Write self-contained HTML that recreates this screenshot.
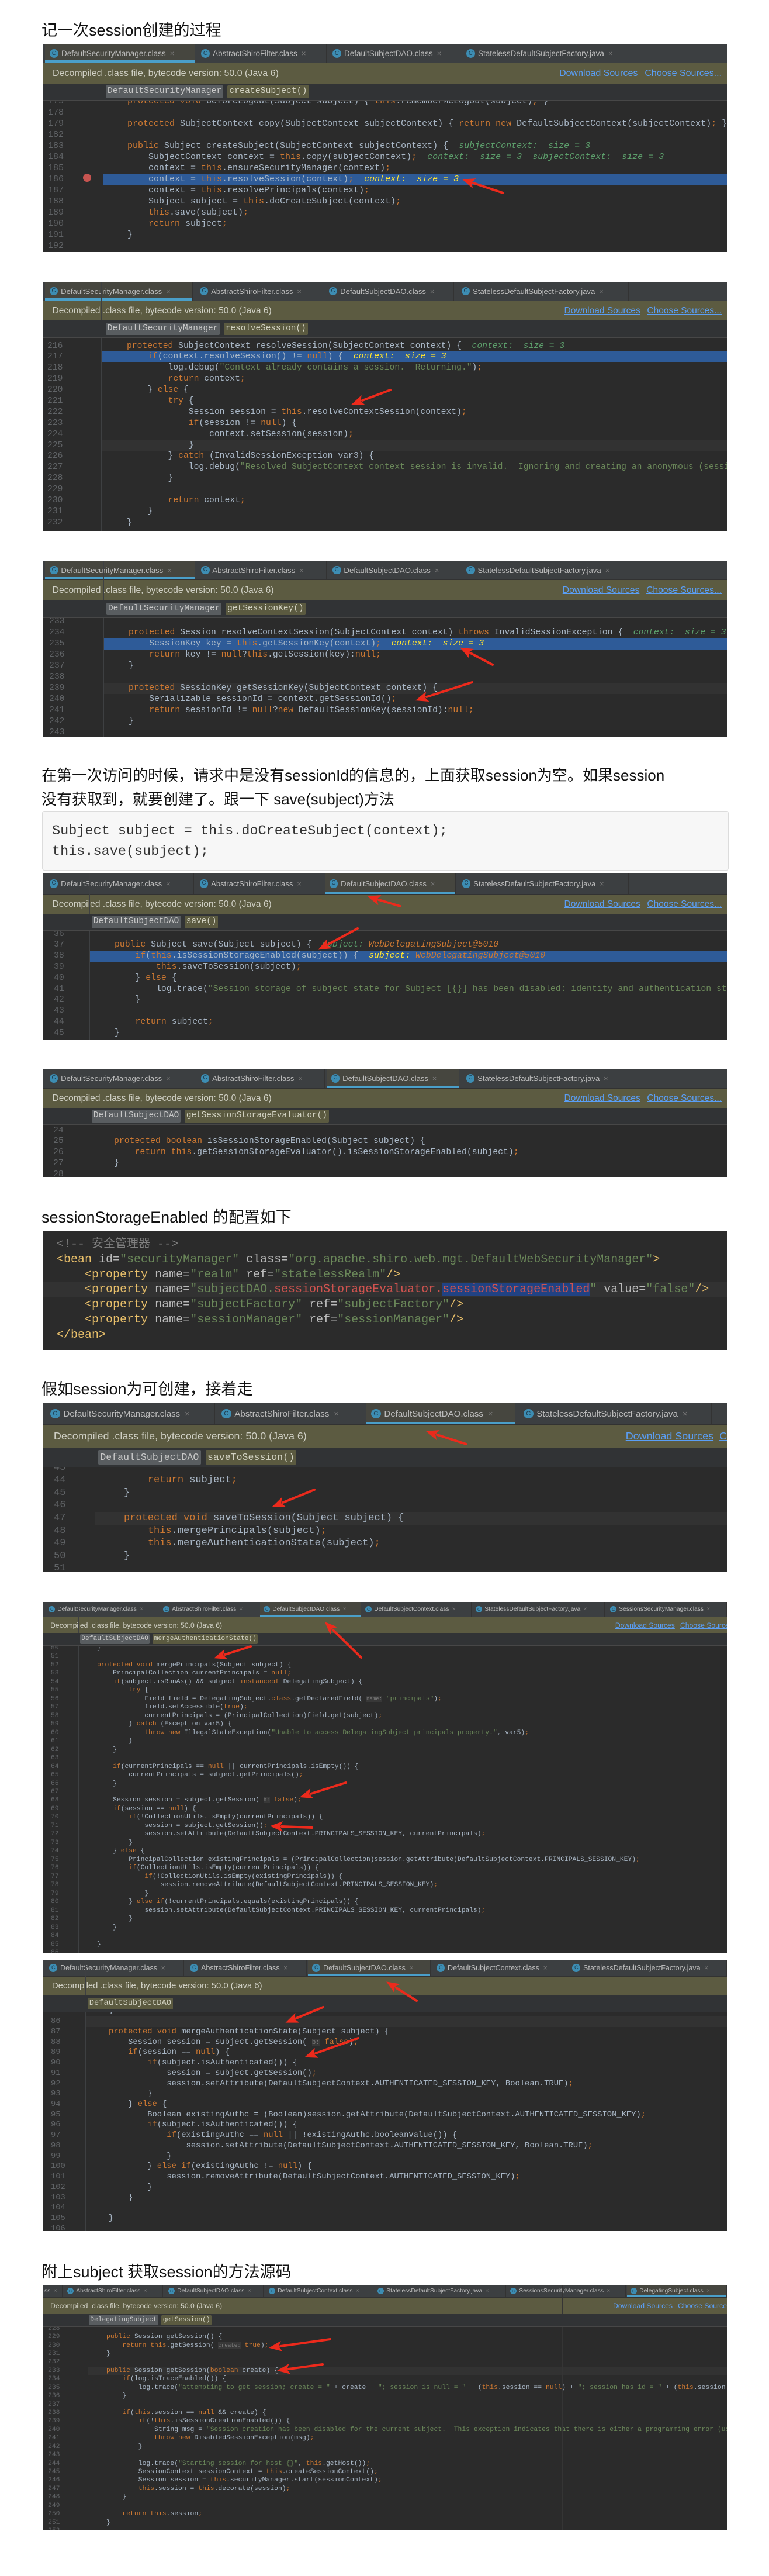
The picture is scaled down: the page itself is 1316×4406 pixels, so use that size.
<!DOCTYPE html>
<html><head><meta charset="utf-8">
<style>
*{margin:0;padding:0;box-sizing:border-box}
body{width:1316px;height:4406px;background:#fff;position:relative;overflow:hidden;font-family:"Liberation Sans","Noto Sans CJK SC",sans-serif}
.t{position:absolute;left:71px;font-size:27px;line-height:34px;color:#111;white-space:nowrap;font-family:"Liberation Sans","Noto Sans CJK SC",sans-serif}
.p{position:absolute;left:74px;width:1170px;background:#2b2b2b;overflow:hidden;--s:1}
.tb{position:relative;height:var(--th);background:#3c3f41;border-bottom:1px solid #323232}
.tab{position:absolute;top:0;bottom:0;display:flex;align-items:center;padding-left:calc(8px*var(--s));color:#bbbbbb;font-size:calc(13.5px*var(--s));white-space:nowrap;overflow:hidden;border-right:1px solid #333}
.tab.a{background:#46463f}
.tab.a::after{content:'';position:absolute;left:0;right:0;bottom:0;height:calc(4px*var(--s));background:#4a9fc9}
.tab b{display:inline-block;width:calc(15px*var(--s));height:calc(15px*var(--s));border-radius:50%;background:#3d8db3;color:#1e3b4d;font-size:calc(10px*var(--s));line-height:calc(15px*var(--s));text-align:center;margin-right:calc(5px*var(--s));font-weight:normal}
.tab u{text-decoration:none;color:#777;margin-left:calc(7px*var(--s))}
.dec{height:var(--dh);background:#5c5b41;display:flex;align-items:center;padding-left:calc(16px*var(--s));color:#cfcfc4;font-size:calc(16px*var(--s));white-space:nowrap}
.lk{color:#5a9ef5;text-decoration:underline}
.lk1{margin-left:auto;margin-right:calc(12px*var(--s))}
.lk2{margin-right:9px}
.bc{position:relative;z-index:3;height:var(--bh);background:#313335;border-bottom:1px solid #474747;display:flex;align-items:center}
.ch{font-family:"Liberation Mono",monospace;font-size:calc(14.8px*var(--s));color:#c8c8c8;background:#595d60;padding:calc(2px*var(--s)) calc(3px*var(--s));margin-right:calc(7px*var(--s));border-radius:2px;line-height:1.2}
.ch.o{background:#5b5a40;color:#d2d2c2}
.code{position:absolute;left:0;right:0;z-index:0;font-family:"Liberation Mono",monospace;font-size:var(--fs);color:#a9b7c6}
.l{position:relative;height:var(--L);line-height:var(--L);padding-left:var(--cx);white-space:pre}
.l i{position:absolute;left:var(--nx);font-style:normal;color:#606366}
.hl::before,.cl::before{content:'';position:absolute;left:var(--gx);right:0;top:0;bottom:0;z-index:-1;background:#2e5b98}
.cl::before{background:#323232}
.gl{position:absolute;top:0;bottom:0;width:1px;background:#3e4042;z-index:1}
.k{color:#cc7832}.s{color:#6a8759}.d{color:#5c9e6b;font-style:italic}.y{color:#ffe330;font-style:italic}.y2{color:#ffc66d;font-style:italic}
.hint{color:#7a7a7a;background:#383838;font-size:.8em}
.xc{color:#808080}.xt{color:#e8bf6a}.xa{color:#bababa}.xv{color:#6a8759}.xr{color:#d0534f}.sel{background:#214283}
.box{position:absolute;left:72px;top:1387px;width:1175px;height:102px;background:#f7f7f7;border:1px solid #dcdcdc;border-radius:4px;font-family:"Liberation Mono",monospace;font-size:23.5px;line-height:35px;color:#333;padding:16px 0 0 16px;white-space:pre}
svg.ar{position:absolute;left:0;top:0;z-index:10}
</style></head><body>

<div class="t" style="top:35px">记一次session创建的过程</div>

<!-- PANEL 1 -->
<div class="p" style="top:76px;height:355px;--th:32px;--dh:35px;--bh:29px">
<div class="tb">
<div class="tab a" style="left:3px;width:257px"><b>C</b>DefaultSecurityManager.class<u>×</u></div>
<div class="tab" style="left:262px;width:223px"><b>C</b>AbstractShiroFilter.class<u>×</u></div>
<div class="tab" style="left:487px;width:225px"><b>C</b>DefaultSubjectDAO.class<u>×</u></div>
<div class="tab" style="left:716px;width:294px"><b>C</b>StatelessDefaultSubjectFactory.java<u>×</u></div>
</div>
<div class="dec">Decompiled .class file, bytecode version: 50.0 (Java 6)<span class="lk lk1">Download Sources</span><span class="lk lk2">Choose Sources...</span></div>
<div class="bc"><span class="ch" style="margin-left:107px">DefaultSecurityManager</span><span class="ch o">createSubject()</span></div>
<div class="gl" style="left:102px"></div>
<div class="code" style="top:87.5px;--L:19px;--fs:15px;--cx:144px;--nx:8px;--gx:102px">
<div class="l"><i>175</i><span class="k">protected void</span> beforeLogout(Subject subject) { <span class="k">this</span>.rememberMeLogout(subject)<span class="k">;</span> }</div>
<div class="l"><i>178</i></div>
<div class="l"><i>179</i><span class="k">protected</span> SubjectContext copy(SubjectContext subjectContext) { <span class="k">return new</span> DefaultSubjectContext(subjectContext)<span class="k">;</span> }</div>
<div class="l"><i>182</i></div>
<div class="l"><i>183</i><span class="k">public</span> Subject createSubject(SubjectContext subjectContext) {  <span class="d">subjectContext:  size = 3</span></div>
<div class="l"><i>184</i>    SubjectContext context = <span class="k">this</span>.copy(subjectContext)<span class="k">;</span>  <span class="d">context:  size = 3  subjectContext:  size = 3</span></div>
<div class="l"><i>185</i>    context = <span class="k">this</span>.ensureSecurityManager(context)<span class="k">;</span></div>
<div class="l hl"><i>186</i>    context = <span class="k">this</span>.resolveSession(context)<span class="k">;</span>  <span class="y">context:  size = 3</span></div>
<div class="l"><i>187</i>    context = <span class="k">this</span>.resolvePrincipals(context)<span class="k">;</span></div>
<div class="l"><i>188</i>    Subject subject = <span class="k">this</span>.doCreateSubject(context)<span class="k">;</span></div>
<div class="l"><i>189</i>    <span class="k">this</span>.save(subject)<span class="k">;</span></div>
<div class="l"><i>190</i>    <span class="k">return</span> subject<span class="k">;</span></div>
<div class="l"><i>191</i>}</div>
<div class="l"><i>192</i></div>
</div>
<div style="position:absolute;left:68px;top:221px;width:14px;height:14px;border-radius:50%;background:#c75450;z-index:2"></div>
</div>

<!-- PANEL 2 -->
<div class="p" style="top:482px;height:426px;--s:.97;--th:33px;--dh:33px;--bh:30px">
<div class="tb">
<div class="tab a" style="left:3px;width:253px"><b>C</b>DefaultSecurityManager.class<u>×</u></div>
<div class="tab" style="left:260px;width:216px"><b>C</b>AbstractShiroFilter.class<u>×</u></div>
<div class="tab" style="left:481px;width:222px"><b>C</b>DefaultSubjectDAO.class<u>×</u></div>
<div class="tab" style="left:708px;width:294px"><b>C</b>StatelessDefaultSubjectFactory.java<u>×</u></div>
</div>
<div class="dec">Decompiled .class file, bytecode version: 50.0 (Java 6)<span class="lk lk1">Download Sources</span><span class="lk lk2">Choose Sources...</span></div>
<div class="bc"><span class="ch" style="margin-left:107px">DefaultSecurityManager</span><span class="ch o">resolveSession()</span></div>
<div class="gl" style="left:99px"></div>
<div class="code" style="top:100.5px;--L:18.9px;--fs:14.7px;--cx:143px;--nx:7px;--gx:99px">
<div class="l"><i>216</i><span class="k">protected</span> SubjectContext resolveSession(SubjectContext context) {  <span class="d">context:  size = 3</span></div>
<div class="l hl"><i>217</i>    <span class="k">if</span>(context.resolveSession() != <span class="k">null</span>) {  <span class="y">context:  size = 3</span></div>
<div class="l"><i>218</i>        log.debug(<span class="s">"Context already contains a session.  Returning."</span>)<span class="k">;</span></div>
<div class="l"><i>219</i>        <span class="k">return</span> context<span class="k">;</span></div>
<div class="l"><i>220</i>    } <span class="k">else</span> {</div>
<div class="l"><i>221</i>        <span class="k">try</span> {</div>
<div class="l"><i>222</i>            Session session = <span class="k">this</span>.resolveContextSession(context)<span class="k">;</span></div>
<div class="l"><i>223</i>            <span class="k">if</span>(session != <span class="k">null</span>) {</div>
<div class="l"><i>224</i>                context.setSession(session)<span class="k">;</span></div>
<div class="l cl"><i>225</i>            }</div>
<div class="l"><i>226</i>        } <span class="k">catch</span> (InvalidSessionException var3) {</div>
<div class="l"><i>227</i>            log.debug(<span class="s">"Resolved SubjectContext context session is invalid.  Ignoring and creating an anonymous (sessionless) Subject instance."</span>, var3)<span class="k">;</span></div>
<div class="l"><i>228</i>        }</div>
<div class="l"><i>229</i></div>
<div class="l"><i>230</i>        <span class="k">return</span> context<span class="k">;</span></div>
<div class="l"><i>231</i>    }</div>
<div class="l"><i>232</i>}</div>
</div>
</div>

<!-- PANEL 3 -->
<div class="p" style="top:959px;height:301px;--s:.98;--th:33px;--dh:35px;--bh:30px">
<div class="tb">
<div class="tab a" style="left:3px;width:257px"><b>C</b>DefaultSecurityManager.class<u>×</u></div>
<div class="tab" style="left:262px;width:223px"><b>C</b>AbstractShiroFilter.class<u>×</u></div>
<div class="tab" style="left:487px;width:225px"><b>C</b>DefaultSubjectDAO.class<u>×</u></div>
<div class="tab" style="left:716px;width:294px"><b>C</b>StatelessDefaultSubjectFactory.java<u>×</u></div>
</div>
<div class="dec">Decompiled .class file, bytecode version: 50.0 (Java 6)<span class="lk lk1">Download Sources</span><span class="lk lk2">Choose Sources...</span></div>
<div class="bc"><span class="ch" style="margin-left:108px">DefaultSecurityManager</span><span class="ch o">getSessionKey()</span></div>
<div class="gl" style="left:103px"></div>
<div class="code" style="top:94.5px;--L:19px;--fs:14.7px;--cx:146px;--nx:10px;--gx:103px">
<div class="l"><i>233</i></div>
<div class="l"><i>234</i><span class="k">protected</span> Session resolveContextSession(SubjectContext context) <span class="k">throws</span> InvalidSessionException {  <span class="d">context:  size = 3</span></div>
<div class="l hl"><i>235</i>    SessionKey key = <span class="k">this</span>.getSessionKey(context)<span class="k">;</span>  <span class="y">context:  size = 3</span></div>
<div class="l"><i>236</i>    <span class="k">return</span> key != <span class="k">null</span>?<span class="k">this</span>.getSession(key):<span class="k">null;</span></div>
<div class="l"><i>237</i>}</div>
<div class="l"><i>238</i></div>
<div class="l cl"><i>239</i><span class="k">protected</span> SessionKey getSessionKey(SubjectContext context) {</div>
<div class="l"><i>240</i>    Serializable sessionId = context.getSessionId()<span class="k">;</span></div>
<div class="l"><i>241</i>    <span class="k">return</span> sessionId != <span class="k">null</span>?<span class="k">new</span> DefaultSessionKey(sessionId):<span class="k">null;</span></div>
<div class="l"><i>242</i>}</div>
<div class="l"><i>243</i></div>
</div>
</div>

<div class="t" style="top:1306px;font-size:26px;line-height:41px">在第一次访问的时候，请求中是没有sessionId的信息的，上面获取session为空。如果session<br>没有获取到，就要创建了。跟一下 save(subject)方法</div>

<div class="box">Subject subject = this.doCreateSubject(context);
this.save(subject);</div>

<!-- PANEL 4 -->
<div class="p" style="top:1494px;height:284px;--s:.97;--th:36px;--dh:33px;--bh:29px">
<div class="tb">
<div class="tab" style="left:3px;width:255px"><b>C</b>DefaultSecurityManager.class<u>×</u></div>
<div class="tab" style="left:260px;width:216px"><b>C</b>AbstractShiroFilter.class<u>×</u></div>
<div class="tab a" style="left:482px;width:224px"><b>C</b>DefaultSubjectDAO.class<u>×</u></div>
<div class="tab" style="left:709px;width:293px"><b>C</b>StatelessDefaultSubjectFactory.java<u>×</u></div>
</div>
<div class="dec">Decompiled .class file, bytecode version: 50.0 (Java 6)<span class="lk lk1">Download Sources</span><span class="lk lk2">Choose Sources...</span></div>
<div class="bc"><span class="ch" style="margin-left:83px">DefaultSubjectDAO</span><span class="ch o">save()</span></div>
<div class="gl" style="left:79px"></div>
<div class="code" style="top:94.6px;--L:18.8px;--fs:14.8px;--cx:122px;--nx:18px;--gx:79px">
<div class="l"><i>36</i></div>
<div class="l"><i>37</i><span class="k">public</span> Subject save(Subject subject) {  <span class="d">subject: </span><span class="k" style="font-style:italic">WebDelegatingSubject@5010</span></div>
<div class="l hl"><i>38</i>    <span class="k">if</span>(<span class="k">this</span>.isSessionStorageEnabled(subject)) {  <span class="y">subject: </span><span class="k" style="font-style:italic">WebDelegatingSubject@5010</span></div>
<div class="l"><i>39</i>        <span class="k">this</span>.saveToSession(subject)<span class="k">;</span></div>
<div class="l"><i>40</i>    } <span class="k">else</span> {</div>
<div class="l"><i>41</i>        log.trace(<span class="s">"Session storage of subject state for Subject [{}] has been disabled: identity and authentication state are expected to be initialized on every request or invocation."</span>, subject)<span class="k">;</span></div>
<div class="l"><i>42</i>    }</div>
<div class="l"><i>43</i></div>
<div class="l"><i>44</i>    <span class="k">return</span> subject<span class="k">;</span></div>
<div class="l"><i>45</i>}</div>
</div>
</div>

<!-- PANEL 5 -->
<div class="p" style="top:1828px;height:185px;--s:.97;--th:34px;--dh:33px;--bh:29px">
<div class="tb">
<div class="tab" style="left:3px;width:257px"><b>C</b>DefaultSecurityManager.class<u>×</u></div>
<div class="tab" style="left:262px;width:220px"><b>C</b>AbstractShiroFilter.class<u>×</u></div>
<div class="tab a" style="left:485px;width:227px"><b>C</b>DefaultSubjectDAO.class<u>×</u></div>
<div class="tab" style="left:716px;width:290px"><b>C</b>StatelessDefaultSubjectFactory.java<u>×</u></div>
</div>
<div class="dec">Decompiled .class file, bytecode version: 50.0 (Java 6)<span class="lk lk1">Download Sources</span><span class="lk lk2">Choose Sources...</span></div>
<div class="bc"><span class="ch" style="margin-left:83px">DefaultSubjectDAO</span><span class="ch o">getSessionStorageEvaluator()</span></div>
<div class="gl" style="left:78px"></div>
<div class="code" style="top:96.6px;--L:18.75px;--fs:14.8px;--cx:121px;--nx:17px;--gx:78px">
<div class="l"><i>24</i></div>
<div class="l"><i>25</i><span class="k">protected boolean</span> isSessionStorageEnabled(Subject subject) {</div>
<div class="l"><i>26</i>    <span class="k">return this</span>.getSessionStorageEvaluator().isSessionStorageEnabled(subject)<span class="k">;</span></div>
<div class="l"><i>27</i>}</div>
<div class="l"><i>28</i></div>
</div>
</div>

<div class="t" style="top:2065px">sessionStorageEnabled 的配置如下</div>

<!-- XML -->
<div class="p" style="top:2106px;height:203px">
<div class="code" style="top:10px;--L:25.8px;--fs:20px;--cx:23px;--nx:-100px;--gx:0px;font-family:'Liberation Mono','Noto Sans CJK SC',monospace">
<div class="l"><span class="xc">&lt;!-- 安全管理器 --&gt;</span></div>
<div class="l"><span class="xt">&lt;bean</span> <span class="xa">id=</span><span class="xv">"securityManager"</span> <span class="xa">class=</span><span class="xv">"org.apache.shiro.web.mgt.DefaultWebSecurityManager"</span><span class="xt">&gt;</span></div>
<div class="l">    <span class="xt">&lt;property</span> <span class="xa">name=</span><span class="xv">"realm"</span> <span class="xa">ref=</span><span class="xv">"statelessRealm"</span><span class="xt">/&gt;</span></div>
<div class="l cl">    <span class="xt">&lt;property</span> <span class="xa">name=</span><span class="xv">"subjectDAO.</span><span class="xr">sessionStorageEvaluator.</span><span class="xr sel">sessionStorageEnabled</span><span class="xv">"</span> <span class="xa">value=</span><span class="xv">"false"</span><span class="xt">/&gt;</span></div>
<div class="l">    <span class="xt">&lt;property</span> <span class="xa">name=</span><span class="xv">"subjectFactory"</span> <span class="xa">ref=</span><span class="xv">"subjectFactory"</span><span class="xt">/&gt;</span></div>
<div class="l">    <span class="xt">&lt;property</span> <span class="xa">name=</span><span class="xv">"sessionManager"</span> <span class="xa">ref=</span><span class="xv">"sessionManager"</span><span class="xt">/&gt;</span></div>
<div class="l"><span class="xt">&lt;/bean&gt;</span></div>
</div>
</div>

<div class="t" style="top:2359px">假如session为可创建，接着走</div>

<!-- PANEL 6 -->
<div class="p" style="top:2400px;height:288px;--s:1.12;--th:37px;--dh:39px;--bh:34px">
<div class="tb">
<div class="tab" style="left:3px;width:291px"><b>C</b>DefaultSecurityManager.class<u>×</u></div>
<div class="tab" style="left:296px;width:252px"><b>C</b>AbstractShiroFilter.class<u>×</u></div>
<div class="tab a" style="left:552px;width:256px"><b>C</b>DefaultSubjectDAO.class<u>×</u></div>
<div class="tab" style="left:813px;width:331px"><b>C</b>StatelessDefaultSubjectFactory.java<u>×</u></div>
</div>
<div class="dec">Decompiled .class file, bytecode version: 50.0 (Java 6)<span class="lk lk1" style="margin-right:10px">Download Sources</span><span class="lk">C</span></div>
<div class="bc"><span class="ch" style="margin-left:94px">DefaultSubjectDAO</span><span class="ch o">saveToSession()</span></div>
<div class="gl" style="left:88px"></div>
<div class="code" style="top:99.6px;--L:21.6px;--fs:17px;--cx:138px;--nx:18px;--gx:88px">
<div class="l"><i>43</i></div>
<div class="l"><i>44</i>    <span class="k">return</span> subject<span class="k">;</span></div>
<div class="l"><i>45</i>}</div>
<div class="l"><i>46</i></div>
<div class="l cl"><i>47</i><span class="k">protected void</span> saveToSession(Subject subject) {</div>
<div class="l"><i>48</i>    <span class="k">this</span>.mergePrincipals(subject)<span class="k">;</span></div>
<div class="l"><i>49</i>    <span class="k">this</span>.mergeAuthenticationState(subject)<span class="k">;</span></div>
<div class="l"><i>50</i>}</div>
<div class="l"><i>51</i></div>
</div>
</div>

<!-- PANEL 7 -->
<div class="p" style="top:2740px;height:600px;--s:.76;--th:26px;--dh:27px;--bh:22px">
<div class="tb">
<div class="tab" style="left:3px;width:194px"><b>C</b>DefaultSecurityManager.class<u>×</u></div>
<div class="tab" style="left:199px;width:171px"><b>C</b>AbstractShiroFilter.class<u>×</u></div>
<div class="tab a" style="left:371px;width:173px"><b>C</b>DefaultSubjectDAO.class<u>×</u></div>
<div class="tab" style="left:545px;width:188px"><b>C</b>DefaultSubjectContext.class<u>×</u></div>
<div class="tab" style="left:734px;width:227px"><b>C</b>StatelessDefaultSubjectFactory.java<u>×</u></div>
<div class="tab" style="left:964px;width:206px"><b>C</b>SessionsSecurityManager.class<u>×</u></div>
</div>
<div class="dec">Decompiled .class file, bytecode version: 50.0 (Java 6)<span class="lk lk1">Download Sources</span><span class="lk" style="margin-right:-20px">Choose Sources...</span></div>
<div class="bc"><span class="ch" style="margin-left:63px">DefaultSubjectDAO</span><span class="ch o">mergeAuthenticationState()</span></div>
<div class="gl" style="left:60px"></div>
<div class="gl" style="left:879px;background:#353535"></div>
<div class="code" style="top:71.75px;--L:14.49px;--fs:11.3px;--cx:92px;--nx:13px;--gx:60px">
<div class="l"><i>50</i>}</div>
<div class="l"><i>51</i></div>
<div class="l"><i>52</i><span class="k">protected void</span> mergePrincipals(Subject subject) {</div>
<div class="l"><i>53</i>    PrincipalCollection currentPrincipals = <span class="k">null;</span></div>
<div class="l"><i>54</i>    <span class="k">if</span>(subject.isRunAs() &amp;&amp; subject <span class="k">instanceof</span> DelegatingSubject) {</div>
<div class="l"><i>55</i>        <span class="k">try</span> {</div>
<div class="l"><i>56</i>            Field field = DelegatingSubject.<span class="k">class</span>.getDeclaredField( <span class="hint">name:</span> <span class="s">"principals"</span>)<span class="k">;</span></div>
<div class="l"><i>57</i>            field.setAccessible(<span class="k">true</span>)<span class="k">;</span></div>
<div class="l"><i>58</i>            currentPrincipals = (PrincipalCollection)field.get(subject)<span class="k">;</span></div>
<div class="l"><i>59</i>        } <span class="k">catch</span> (Exception var5) {</div>
<div class="l"><i>60</i>            <span class="k">throw new</span> IllegalStateException(<span class="s">"Unable to access DelegatingSubject principals property."</span>, var5)<span class="k">;</span></div>
<div class="l"><i>61</i>        }</div>
<div class="l"><i>62</i>    }</div>
<div class="l"><i>63</i></div>
<div class="l"><i>64</i>    <span class="k">if</span>(currentPrincipals == <span class="k">null</span> || currentPrincipals.isEmpty()) {</div>
<div class="l"><i>65</i>        currentPrincipals = subject.getPrincipals()<span class="k">;</span></div>
<div class="l"><i>66</i>    }</div>
<div class="l"><i>67</i></div>
<div class="l"><i>68</i>    Session session = subject.getSession( <span class="hint">b:</span> <span class="k">false</span>)<span class="k">;</span></div>
<div class="l"><i>69</i>    <span class="k">if</span>(session == <span class="k">null</span>) {</div>
<div class="l"><i>70</i>        <span class="k">if</span>(!CollectionUtils.isEmpty(currentPrincipals)) {</div>
<div class="l"><i>71</i>            session = subject.getSession()<span class="k">;</span></div>
<div class="l"><i>72</i>            session.setAttribute(DefaultSubjectContext.PRINCIPALS_SESSION_KEY, currentPrincipals)<span class="k">;</span></div>
<div class="l"><i>73</i>        }</div>
<div class="l"><i>74</i>    } <span class="k">else</span> {</div>
<div class="l"><i>75</i>        PrincipalCollection existingPrincipals = (PrincipalCollection)session.getAttribute(DefaultSubjectContext.PRINCIPALS_SESSION_KEY)<span class="k">;</span></div>
<div class="l"><i>76</i>        <span class="k">if</span>(CollectionUtils.isEmpty(currentPrincipals)) {</div>
<div class="l"><i>77</i>            <span class="k">if</span>(!CollectionUtils.isEmpty(existingPrincipals)) {</div>
<div class="l"><i>78</i>                session.removeAttribute(DefaultSubjectContext.PRINCIPALS_SESSION_KEY)<span class="k">;</span></div>
<div class="l"><i>79</i>            }</div>
<div class="l"><i>80</i>        } <span class="k">else if</span>(!currentPrincipals.equals(existingPrincipals)) {</div>
<div class="l"><i>81</i>            session.setAttribute(DefaultSubjectContext.PRINCIPALS_SESSION_KEY, currentPrincipals)<span class="k">;</span></div>
<div class="l"><i>82</i>        }</div>
<div class="l"><i>83</i>    }</div>
<div class="l"><i>84</i></div>
<div class="l"><i>85</i>}</div>
<div class="l"><i>86</i></div>
</div>
</div>

<!-- PANEL 8 -->
<div class="p" style="top:3352px;height:464px;--s:.93;--th:29px;--dh:32px;--bh:29px">
<div class="tb">
<div class="tab" style="left:3px;width:238px"><b>C</b>DefaultSecurityManager.class<u>×</u></div>
<div class="tab" style="left:244px;width:207px"><b>C</b>AbstractShiroFilter.class<u>×</u></div>
<div class="tab a" style="left:453px;width:210px"><b>C</b>DefaultSubjectDAO.class<u>×</u></div>
<div class="tab" style="left:666px;width:231px"><b>C</b>DefaultSubjectContext.class<u>×</u></div>
<div class="tab" style="left:898px;width:272px"><b>C</b>StatelessDefaultSubjectFactory.java<u>×</u></div>
</div>
<div class="dec">Decompiled .class file, bytecode version: 50.0 (Java 6)</div>
<div class="bc"><span class="ch o" style="margin-left:76px">DefaultSubjectDAO</span></div>
<div class="gl" style="left:72px"></div>
<div class="gl" style="left:1074px;background:#353535"></div>
<div class="code" style="top:79.4px;--L:17.74px;--fs:13.8px;--cx:112px;--nx:13px;--gx:72px">
<div class="l"><i>85</i>}</div>
<div class="l cl"><i>86</i></div>
<div class="l"><i>87</i><span class="k">protected void</span> mergeAuthenticationState(Subject subject) {</div>
<div class="l"><i>88</i>    Session session = subject.getSession( <span class="hint">b:</span> <span class="k">false</span>)<span class="k">;</span></div>
<div class="l"><i>89</i>    <span class="k">if</span>(session == <span class="k">null</span>) {</div>
<div class="l"><i>90</i>        <span class="k">if</span>(subject.isAuthenticated()) {</div>
<div class="l"><i>91</i>            session = subject.getSession()<span class="k">;</span></div>
<div class="l"><i>92</i>            session.setAttribute(DefaultSubjectContext.AUTHENTICATED_SESSION_KEY, Boolean.TRUE)<span class="k">;</span></div>
<div class="l"><i>93</i>        }</div>
<div class="l"><i>94</i>    } <span class="k">else</span> {</div>
<div class="l"><i>95</i>        Boolean existingAuthc = (Boolean)session.getAttribute(DefaultSubjectContext.AUTHENTICATED_SESSION_KEY)<span class="k">;</span></div>
<div class="l"><i>96</i>        <span class="k">if</span>(subject.isAuthenticated()) {</div>
<div class="l"><i>97</i>            <span class="k">if</span>(existingAuthc == <span class="k">null</span> || !existingAuthc.booleanValue()) {</div>
<div class="l"><i>98</i>                session.setAttribute(DefaultSubjectContext.AUTHENTICATED_SESSION_KEY, Boolean.TRUE)<span class="k">;</span></div>
<div class="l"><i>99</i>            }</div>
<div class="l"><i>100</i>        } <span class="k">else if</span>(existingAuthc != <span class="k">null</span>) {</div>
<div class="l"><i>101</i>            session.removeAttribute(DefaultSubjectContext.AUTHENTICATED_SESSION_KEY)<span class="k">;</span></div>
<div class="l"><i>102</i>        }</div>
<div class="l"><i>103</i>    }</div>
<div class="l"><i>104</i></div>
<div class="l"><i>105</i>}</div>
<div class="l"><i>106</i></div>
</div>
</div>

<div class="t" style="top:3869px">附上subject 获取session的方法源码</div>

<!-- PANEL 9 -->
<div class="p" style="top:3908px;height:419px;--s:.76;--th:22px;--dh:28px;--bh:22px">
<div class="tb">
<div class="tab" style="left:0;width:33px;padding-left:2px">ss<u>×</u></div>
<div class="tab" style="left:35px;width:170px"><b>C</b>AbstractShiroFilter.class<u>×</u></div>
<div class="tab" style="left:208px;width:169px"><b>C</b>DefaultSubjectDAO.class<u>×</u></div>
<div class="tab" style="left:380px;width:185px"><b>C</b>DefaultSubjectContext.class<u>×</u></div>
<div class="tab" style="left:566px;width:226px"><b>C</b>StatelessDefaultSubjectFactory.java<u>×</u></div>
<div class="tab" style="left:793px;width:204px"><b>C</b>SessionsSecurityManager.class<u>×</u></div>
<div class="tab a" style="left:999px;width:171px"><b>C</b>DelegatingSubject.class<u>×</u></div>
</div>
<div class="dec">Decompiled .class file, bytecode version: 50.0 (Java 6)<span class="lk lk1">Download Sources</span><span class="lk" style="margin-right:-6px">Choose Sources</span></div>
<div class="bc"><span class="ch" style="margin-left:78px">DelegatingSubject</span><span class="ch o">getSession()</span></div>
<div class="gl" style="left:76px"></div>
<div class="gl" style="left:888px;background:#353535"></div>
<div class="code" style="top:67.8px;--L:14.43px;--fs:11.4px;--cx:108px;--nx:8px;--gx:76px">
<div class="l"><i>228</i></div>
<div class="l"><i>229</i><span class="k">public</span> Session getSession() {</div>
<div class="l"><i>230</i>    <span class="k">return this</span>.getSession( <span class="hint">create:</span> <span class="k">true</span>)<span class="k">;</span></div>
<div class="l"><i>231</i>}</div>
<div class="l"><i>232</i></div>
<div class="l cl"><i>233</i><span class="k">public</span> Session getSession(<span class="k">boolean</span> create) {</div>
<div class="l"><i>234</i>    <span class="k">if</span>(log.isTraceEnabled()) {</div>
<div class="l"><i>235</i>        log.trace(<span class="s">"attempting to get session; create = "</span> + create + <span class="s">"; session is null = "</span> + (<span class="k">this</span>.session == <span class="k">null</span>) + <span class="s">"; session has id = "</span> + (<span class="k">this</span>.session != <span class="k">null</span> &amp;&amp; <span class="k">this</span>.session.getId() != <span class="k">null</span>))<span class="k">;</span></div>
<div class="l"><i>236</i>    }</div>
<div class="l"><i>237</i></div>
<div class="l"><i>238</i>    <span class="k">if</span>(<span class="k">this</span>.session == <span class="k">null</span> &amp;&amp; create) {</div>
<div class="l"><i>239</i>        <span class="k">if</span>(!<span class="k">this</span>.isSessionCreationEnabled()) {</div>
<div class="l"><i>240</i>            String msg = <span class="s">"Session creation has been disabled for the current subject.  This exception indicates that there is either a programming error (using a session when it should never be used)"</span><span class="k">;</span></div>
<div class="l"><i>241</i>            <span class="k">throw new</span> DisabledSessionException(msg)<span class="k">;</span></div>
<div class="l"><i>242</i>        }</div>
<div class="l"><i>243</i></div>
<div class="l"><i>244</i>        log.trace(<span class="s">"Starting session for host {}"</span>, <span class="k">this</span>.getHost())<span class="k">;</span></div>
<div class="l"><i>245</i>        SessionContext sessionContext = <span class="k">this</span>.createSessionContext()<span class="k">;</span></div>
<div class="l"><i>246</i>        Session session = <span class="k">this</span>.securityManager.start(sessionContext)<span class="k">;</span></div>
<div class="l"><i>247</i>        <span class="k">this</span>.session = <span class="k">this</span>.decorate(session)<span class="k">;</span></div>
<div class="l"><i>248</i>    }</div>
<div class="l"><i>249</i></div>
<div class="l"><i>250</i>    <span class="k">return this</span>.session<span class="k">;</span></div>
<div class="l"><i>251</i>}</div>
<div class="l"><i>252</i></div>
</div>
</div>

<svg class="ar" width="1316" height="4406" viewBox="0 0 1316 4406">
<defs><marker id="h" markerUnits="userSpaceOnUse" markerWidth="22" markerHeight="18" refX="2" refY="9" orient="auto"><path d="M0,0 L22,9 L0,18 L5,9 Z" fill="#ec2a1c"/></marker></defs>
<g stroke="#ec2a1c" stroke-width="4" stroke-linecap="round" fill="none" marker-end="url(#h)">
<line x1="861" y1="330" x2="810" y2="313"/>
<line x1="668" y1="667" x2="620" y2="685"/>
<line x1="843" y1="1137" x2="805" y2="1117"/>
<line x1="808" y1="1167" x2="730" y2="1192"/>
<line x1="685" y1="1550" x2="648" y2="1539"/>
<line x1="612" y1="1588" x2="562" y2="1615"/>
<line x1="798" y1="2470" x2="748" y2="2454"/>
<line x1="538" y1="2548" x2="484" y2="2570"/>
<line x1="618" y1="2835" x2="570" y2="2788"/>
<line x1="429" y1="2816" x2="385" y2="2830"/>
<line x1="592" y1="3049" x2="532" y2="3068"/>
<line x1="534" y1="3126" x2="482" y2="3124"/>
<line x1="713" y1="3422" x2="678" y2="3400"/>
<line x1="553" y1="3433" x2="507" y2="3452"/>
<line x1="613" y1="3486" x2="540" y2="3512"/>
<line x1="565" y1="4001" x2="480" y2="4013"/>
<line x1="552" y1="4044" x2="494" y2="4052"/>
</g>
</svg>
</body></html>
